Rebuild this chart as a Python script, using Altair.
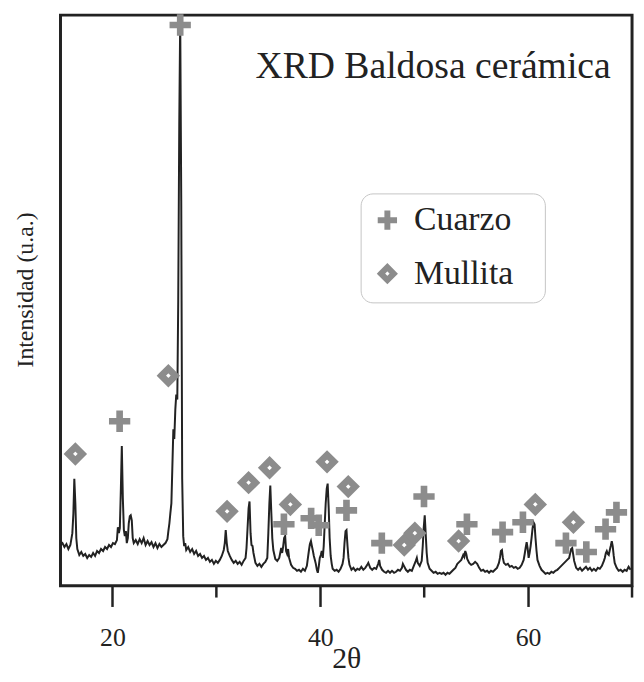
import altair as alt
import pandas as pd

# ---- XRD trace (2θ in degrees, intensity in arbitrary units) ----
two_theta = [
    15.00, 15.19, 15.38, 15.57, 15.76, 15.95, 16.14, 16.24, 16.33, 16.43, 16.52, 16.62,
    16.81, 17.00, 17.19, 17.38, 17.57, 17.76, 17.95, 18.14, 18.33, 18.52, 18.71, 18.90,
    19.10, 19.29, 19.48, 19.67, 19.86, 20.05, 20.24, 20.43, 20.52, 20.62, 20.71, 20.81,
    20.90, 21.00, 21.10, 21.19, 21.29, 21.38, 21.48, 21.57, 21.67, 21.76, 21.86, 21.95,
    22.05, 22.24, 22.43, 22.62, 22.81, 23.00, 23.19, 23.38, 23.57, 23.76, 23.95, 24.14,
    24.33, 24.52, 24.71, 24.90, 25.10, 25.29, 25.38, 25.48, 25.57, 25.67, 25.76, 25.86,
    25.95, 26.05, 26.14, 26.24, 26.33, 26.43, 26.52, 26.62, 26.71, 26.81, 26.90, 27.00,
    27.10, 27.29, 27.48, 27.67, 27.86, 28.05, 28.24, 28.43, 28.62, 28.81, 29.00, 29.19,
    29.38, 29.57, 29.76, 29.95, 30.14, 30.33, 30.52, 30.71, 30.81, 30.90, 31.00, 31.10,
    31.29, 31.48, 31.67, 31.86, 32.05, 32.24, 32.43, 32.62, 32.81, 32.90, 33.00, 33.10,
    33.19, 33.29, 33.38, 33.48, 33.57, 33.76, 33.95, 34.14, 34.33, 34.52, 34.71, 34.90,
    35.00, 35.10, 35.19, 35.29, 35.38, 35.48, 35.67, 35.86, 36.05, 36.24, 36.33, 36.43,
    36.52, 36.62, 36.71, 36.81, 36.90, 37.00, 37.19, 37.38, 37.57, 37.76, 37.95, 38.14,
    38.33, 38.52, 38.71, 38.81, 38.90, 39.00, 39.10, 39.19, 39.29, 39.38, 39.48, 39.57,
    39.67, 39.76, 39.86, 39.95, 40.05, 40.14, 40.24, 40.33, 40.43, 40.52, 40.62, 40.71,
    40.81, 40.90, 41.00, 41.10, 41.19, 41.38, 41.57, 41.76, 41.95, 42.14, 42.24, 42.33,
    42.43, 42.52, 42.62, 42.71, 42.81, 43.00, 43.19, 43.38, 43.57, 43.76, 43.95, 44.14,
    44.33, 44.52, 44.62, 44.81, 45.00, 45.19, 45.38, 45.57, 45.67, 45.76, 45.95, 46.14,
    46.33, 46.52, 46.71, 46.90, 47.10, 47.29, 47.48, 47.67, 47.86, 47.95, 48.05, 48.24,
    48.43, 48.62, 48.81, 49.00, 49.19, 49.29, 49.38, 49.57, 49.76, 49.86, 49.95, 50.05,
    50.14, 50.24, 50.33, 50.52, 50.71, 50.90, 51.10, 51.29, 51.48, 51.67, 51.86, 52.05,
    52.24, 52.43, 52.62, 52.81, 53.00, 53.19, 53.38, 53.57, 53.76, 53.86, 53.95, 54.05,
    54.14, 54.33, 54.52, 54.71, 54.90, 55.10, 55.29, 55.48, 55.67, 55.86, 56.05, 56.24,
    56.43, 56.62, 56.81, 57.00, 57.19, 57.29, 57.38, 57.48, 57.57, 57.67, 57.86, 58.05,
    58.24, 58.43, 58.62, 58.81, 59.00, 59.19, 59.38, 59.57, 59.67, 59.76, 59.86, 59.95,
    60.05, 60.14, 60.24, 60.33, 60.43, 60.52, 60.62, 60.71, 60.81, 60.90, 61.10, 61.29,
    61.48, 61.67, 61.86, 62.05, 62.24, 62.43, 62.62, 62.81, 63.00, 63.19, 63.38, 63.57,
    63.76, 63.95, 64.05, 64.14, 64.24, 64.33, 64.43, 64.62, 64.81, 65.00, 65.19, 65.38,
    65.57, 65.76, 65.95, 66.14, 66.33, 66.52, 66.71, 66.90, 67.10, 67.29, 67.38, 67.48,
    67.57, 67.67, 67.76, 67.86, 67.95, 68.05, 68.14, 68.24, 68.33, 68.52, 68.71, 68.90,
    69.10, 69.29, 69.48, 69.67, 69.86,
]
intensity = [
    41, 43, 39, 42, 37, 41, 53, 73, 108, 83, 48, 37,
    31, 34, 30, 32, 28, 31, 29, 33, 30, 35, 33, 37,
    35, 39, 37, 41, 39, 43, 42, 46, 59, 53, 58, 98,
    141, 88, 56, 50, 55, 43, 48, 63, 70, 71, 66, 48,
    43, 46, 42, 47, 43, 48, 41, 45, 41, 44, 39, 43,
    38, 42, 39, 41, 43, 47, 55, 63, 73, 83, 118, 158,
    148, 178, 193, 188, 288, 468, 573, 388, 108, 50, 40, 43,
    36, 39, 34, 37, 32, 35, 30, 32, 28, 30, 26, 28,
    24, 26, 22, 25, 23, 26, 30, 36, 43, 56, 43, 35,
    30, 26, 23, 25, 22, 24, 21, 25, 28, 38, 58, 78,
    85, 53, 41, 40, 33, 23, 20, 22, 19, 22, 24, 28,
    53, 83, 101, 73, 48, 36, 27, 25, 28, 38, 33, 40,
    48, 50, 35, 32, 37, 28, 21, 18, 17, 15, 16, 14,
    17, 15, 20, 28, 35, 42, 45, 40, 35, 30, 26, 22,
    16, 13, 20, 28, 31, 35, 28, 40, 63, 83, 98, 103,
    78, 48, 30, 22, 17, 15, 16, 14, 17, 22, 28, 43,
    55, 56, 40, 28, 21, 16, 18, 15, 17, 16, 19, 16,
    18, 21, 23, 18, 16, 18, 17, 22, 26, 20, 16, 14,
    13, 15, 13, 15, 13, 14, 16, 15, 18, 22, 20, 16,
    14, 16, 15, 20, 25, 28, 23, 20, 25, 40, 58, 71,
    53, 33, 23, 17, 15, 13, 14, 12, 13, 12, 13, 11,
    13, 12, 14, 16, 18, 22, 24, 26, 31, 29, 35, 32,
    27, 23, 21, 22, 24, 22, 18, 15, 16, 14, 15, 13,
    15, 14, 16, 18, 23, 28, 35, 36, 28, 23, 21, 22,
    19, 20, 18, 19, 17, 18, 21, 26, 32, 38, 44, 38,
    28, 33, 40, 48, 58, 64, 62, 48, 35, 26, 20, 16,
    14, 12, 13, 12, 14, 13, 15, 16, 18, 20, 22, 24,
    26, 28, 33, 37, 38, 32, 25, 18, 16, 18, 15, 17,
    19, 16, 18, 15, 17, 15, 18, 17, 20, 25, 28, 33,
    35, 32, 31, 36, 40, 45, 40, 30, 23, 18, 15, 16,
    14, 16, 15, 19, 16,
]

# ---- Phase markers ----
cuarzo_2theta = [26.52, 20.69, 36.50, 39.12, 39.85, 42.52, 45.92, 49.98, 54.11,
                 57.54, 59.50, 63.64, 65.60, 67.45, 68.50]
cuarzo_int = [566, 166, 62, 68, 61, 76, 43, 90, 62, 54, 64, 43, 34, 57, 74]
mullita_2theta = [16.43, 25.38, 31.03, 33.10, 35.12, 37.12, 40.65, 42.69, 48.08,
                  49.10, 53.31, 60.69, 64.36]
mullita_int = [133, 212, 75, 104, 119, 82, 125, 100, 41, 53, 45, 82, 64]

minor_tick_values = [30, 50, 70]
major_tick_values = [20, 40, 60]

# ---- In-plot caption (anchored at its right end, in data units) ----
caption_text = ["XRD  Baldosa cerámica"]
caption_2theta = [67.95]
caption_int = [513]

trace = pd.DataFrame({"two_theta": two_theta, "intensity": intensity})
markers = pd.DataFrame({
    "two_theta": cuarzo_2theta + mullita_2theta,
    "intensity": cuarzo_int + mullita_int,
    "fase": ["Cuarzo"] * len(cuarzo_2theta) + ["Mullita"] * len(mullita_2theta),
})
minor_df = pd.DataFrame({"two_theta": minor_tick_values})
caption_df = pd.DataFrame({"two_theta": caption_2theta, "intensity": caption_int,
                           "label": caption_text})

FONT = "Liberation Serif"
INK = "#222222"
GRAY = "#8c8c8c"
W, H = 577, 576

xs = alt.Scale(domain=[15, 70], nice=False, zero=False)
ys = alt.Scale(domain=[0, 576], nice=False, zero=False)

x_axis = alt.Axis(
    values=major_tick_values, tickSize=21, tickWidth=2.5, tickColor=INK,
    domain=False, grid=False,
    labelFont=FONT, labelFontSize=26, labelColor=INK, labelPadding=18,
    title="2θ", titleFont=FONT, titleFontSize=30, titleFontWeight="normal",
    titleColor=INK, titleBaseline="alphabetic", titleY=83,
)
y_axis = alt.Axis(
    ticks=False, labels=False, domain=False, grid=False,
    title="Intensidad (u.a.)", titleFont=FONT, titleFontSize=24,
    titleFontWeight="normal", titleColor=INK, titleAngle=270,
    titleBaseline="alphabetic", titleAlign="center", titleX=-28, titleY=277,
)

x_enc = alt.X("two_theta:Q", scale=xs, axis=x_axis)
y_enc = alt.Y("intensity:Q", scale=ys, axis=y_axis)

line = alt.Chart(trace).mark_line(color=INK, strokeWidth=2).encode(x=x_enc, y=y_enc)

cross_path = "M-1,0L1,0M0,-1L0,1"
diamond_path = "M-0.66,0L0,-0.66L0.66,0L0,0.66Z"

points = alt.Chart(markers).mark_point(
    filled=False, color=GRAY, size=462, strokeWidth=6.7, opacity=1
).encode(
    x=x_enc, y=y_enc,
    shape=alt.Shape(
        "fase:N",
        scale=alt.Scale(domain=["Cuarzo", "Mullita"], range=[cross_path, diamond_path]),
        legend=alt.Legend(
            title="\u00a0", titleOrient="right", titlePadding=22, titleFontSize=12,
            orient="none", legendX=303, legendY=180,
            fillColor="white", strokeColor="#c4c4c4",
            cornerRadius=12, padding=10,
            labelFont=FONT, labelFontSize=34, labelColor=INK, labelOffset=10,
            symbolSize=380, symbolStrokeWidth=6, symbolStrokeColor=GRAY,
            symbolFillColor="transparent", symbolOpacity=1, rowPadding=13,
        ),
    ),
)

minor = alt.Chart(minor_df).mark_rule(color=INK, strokeWidth=2.5).encode(
    x=alt.X("two_theta:Q", scale=xs, axis=x_axis),
    y=alt.value(H), y2=alt.value(H + 12),
)

caption = alt.Chart(caption_df).mark_text(
    align="right", baseline="alphabetic", font=FONT, fontSize=38, color=INK
).encode(x=x_enc, y=y_enc, text="label:N")

chart = alt.layer(line, points, minor, caption).properties(
    width=W, height=H,
    padding={"left": 53, "top": 4, "right": 4, "bottom": 86},
    autosize=alt.AutoSizeParams(type="none"),
).configure_view(stroke=INK, strokeWidth=3)

chart.save("out.html", embed_options={"renderer": "svg", "actions": False})
